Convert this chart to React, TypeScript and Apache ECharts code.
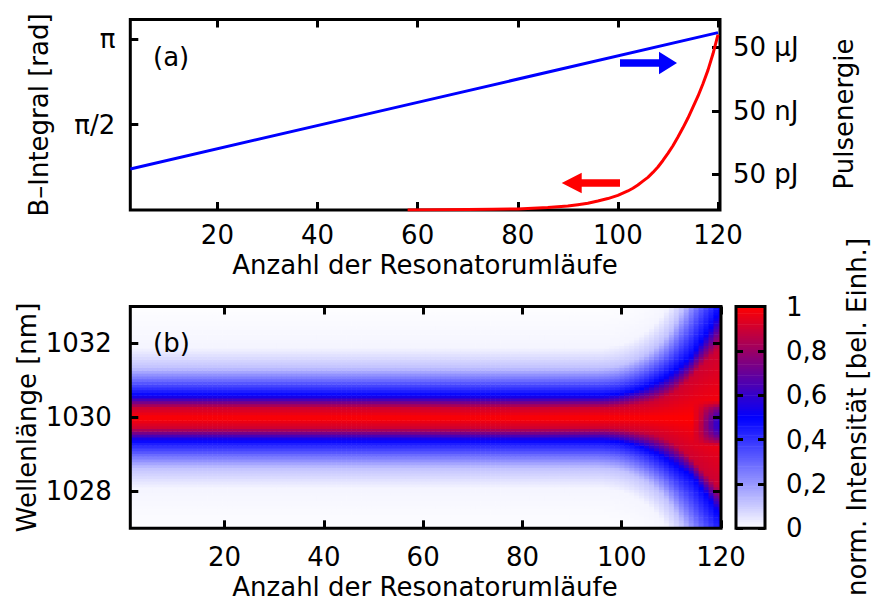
import React, { useEffect, useRef } from 'react';
import * as echarts from 'echarts';

// ---------- data: panel (a) ----------
const roundTicks = [20, 40, 60, 80, 100, 120];
const bTicks = [Math.PI / 2, Math.PI];
const bTickLabels = ['π/2', 'π'];
const energyTicks = [5e-11, 5e-8, 5e-5];
const energyTickLabels = ['50 pJ', '50 nJ', '50 µJ'];

// pulse energy (J) vs round trip (straight line on the log axis)
const energyRounds = [2.6, 60, 120];
const energyJ = [8.8e-11, 1.25e-7, 2.5e-4];

// B-integral (rad) vs round trip
const bRounds = [58, 64, 70, 75, 80, 82, 84, 86, 88, 90, 92, 94, 96, 98, 100, 101, 102, 103, 104, 105, 106, 107, 108, 109, 110, 111, 112, 113, 114, 115, 116, 117, 118, 119, 120];
const bValues = [0.002, 0.004, 0.008, 0.013, 0.02, 0.027, 0.035, 0.045, 0.06, 0.075, 0.098, 0.125, 0.165, 0.21, 0.27, 0.31, 0.35, 0.4, 0.46, 0.53, 0.6, 0.69, 0.79, 0.91, 1.04, 1.18, 1.34, 1.51, 1.69, 1.89, 2.09, 2.32, 2.57, 2.87, 3.22];

// ---------- data: panel (b) ----------
const wlTicks = [1028, 1030, 1032];
const cbTicks = [0, 0.2, 0.4, 0.6, 0.8, 1];
const centreWl = 1030;
// intensity levels and their spectral offsets (nm) in the steady state (rounds 1-95)
const intensityLevels = [1, 0.9, 0.5, 0.12, 0.02, 0];
const steadyOffsets = [0, 0.28, 0.6, 1.35, 1.9, 3.2];
// broadening during the last round trips (rounds 96..120)
const broadStart = 96;
const coreHalfWidth = [0.28, 0.28, 0.29, 0.3, 0.31, 0.32, 0.34, 0.36, 0.38, 0.4, 0.43, 0.47, 0.52, 0.58, 0.65, 0.74, 0.85, 0.97, 1.1, 1.24, 1.38, 1.52, 1.66, 1.8, 1.9];
const midHalfWidth = [0.6, 0.61, 0.62, 0.63, 0.65, 0.68, 0.71, 0.75, 0.79, 0.84, 0.9, 0.96, 1.03, 1.11, 1.2, 1.29, 1.39, 1.49, 1.6, 1.78, 1.97, 2.16, 2.35, 2.6, 2.75];
const wingHalfWidth = [1.36, 1.37, 1.38, 1.4, 1.43, 1.47, 1.52, 1.58, 1.65, 1.73, 1.82, 1.93, 2.05, 2.2, 2.38, 2.6, 2.85, 3.1, 3.4, 3.7, 4.0, 4.3, 4.6, 4.9, 5.2];
const farHalfWidth = [1.9, 1.92, 1.94, 1.97, 2.0, 2.05, 2.1, 2.17, 2.25, 2.35, 2.46, 2.6, 2.75, 2.95, 3.15, 3.4, 3.7, 4.0, 4.4, 4.8, 5.2, 5.6, 6.0, 6.4, 6.8];
const centreShift = [0, 0, 0, 0, 0, 0, 0, 0, 0, 0, 0, 0, 0, 0, 0, 0.01, 0.02, 0.03, 0.05, 0.07, 0.08, 0.09, 0.1, 0.12, 0.13];
const dipDepth = [0, 0, 0, 0, 0, 0, 0, 0, 0, 0, 0, 0, 0, 0, 0, 0, 0, 0, 0, 0.05, 0.12, 0.22, 0.3, 0.38, 0.42];
const dipCentre = -0.15;
const dipHalfWidth = 0.6;

const WL_MIN = 1027;
const WL_MAX = 1033;
const WL_STEP = 0.075;
const N_ROUNDS = 120;

function offsetsFor(round: number, side: number): number[] {
  if (round < broadStart) return steadyOffsets;
  const i = round - broadStart;
  const s = side * centreShift[i];
  const far = farHalfWidth[i] + s;
  return [0, coreHalfWidth[i], midHalfWidth[i] + s, wingHalfWidth[i] + s, far, far + 1.3];
}

function profileValue(d: number, offs: number[]): number {
  for (let k = 1; k < offs.length; k++) {
    if (d <= offs[k]) {
      const t = (d - offs[k - 1]) / (offs[k] - offs[k - 1]);
      return intensityLevels[k - 1] + t * (intensityLevels[k] - intensityLevels[k - 1]);
    }
  }
  return 0;
}

function buildSpectrogram(): number[][] {
  const out: number[][] = [];
  const nRows = Math.round((WL_MAX - WL_MIN) / WL_STEP);
  for (let r = 1; r <= N_ROUNDS; r++) {
    for (let j = 0; j < nRows; j++) {
      const wl = WL_MIN + (j + 0.5) * WL_STEP;
      const delta = wl - centreWl;
      const side = delta >= 0 ? 1 : -1;
      let v = profileValue(Math.abs(delta), offsetsFor(r, side));
      if (r >= broadStart) {
        const dd = dipDepth[r - broadStart];
        if (dd > 0) {
          const u = (delta - dipCentre) / dipHalfWidth;
          if (Math.abs(u) < 1) v -= dd * (1 - u * u);
        }
      }
      out.push([r, wl, Math.max(0, Math.min(1, v))]);
    }
  }
  return out;
}

function buildColorbar(): number[][] {
  const out: number[][] = [];
  for (let i = 0; i < 100; i++) {
    const lv = (i + 0.5) / 100;
    out.push([0.5, lv, lv]);
  }
  return out;
}

// ---------- layout ----------
const FONT = 'DejaVu Sans';
const FS = 26;
const GA = { left: 130.3, top: 19.5, width: 589.7, height: 190.5 };
const GB = { left: 130.3, top: 306.5, width: 590.7, height: 221.8 };
const GC = { left: 736, top: 306.5, width: 29, height: 221.8 };

const tickStyle = { color: '#000', width: 3 };
const labelBase = { fontFamily: FONT, fontSize: FS, color: '#000' };

function nearestLabel(v: number, ticks: number[], labels: string[], log = false): string {
  let best = 0;
  let bd = Infinity;
  ticks.forEach((t, i) => {
    const d = log ? Math.abs(Math.log10(v) - Math.log10(t)) : Math.abs(v - t);
    if (d < bd) { bd = d; best = i; }
  });
  return labels[best];
}

export default function App() {
  const ref = useRef<HTMLDivElement>(null);
  useEffect(() => {
    if (!ref.current) return;
    const chart = echarts.init(ref.current, undefined, { renderer: 'svg' });
    const spectro = buildSpectrogram();
    const cbar = buildColorbar();

    const cellRenderer = (dx: number, dy: number) => (params: any, api: any) => {
      const x = api.value(0);
      const y = api.value(1);
      const p0 = api.coord([x - dx / 2, y + dy / 2]);
      const p1 = api.coord([x + dx / 2, y - dy / 2]);
      return {
        type: 'rect',
        shape: { x: p0[0], y: p0[1], width: p1[0] - p0[0] + 0.6, height: p1[1] - p0[1] + 0.6 },
        style: { fill: api.visual('color') },
      };
    };

    const text = (t: string, x: number, y: number, rot = 0, align = 'center') => ({
      type: 'text',
      x,
      y,
      rotation: rot,
      z: 120,
      style: {
        text: t,
        fontFamily: FONT,
        fontSize: FS,
        fill: '#000',
        align,
        textAlign: align,
        verticalAlign: 'middle',
        textVerticalAlign: 'middle',
      },
    });

    const frame = (g: any) => ({
      type: 'rect',
      z: 100,
      shape: { x: g.left, y: g.top, width: g.width, height: g.height },
      style: { fill: 'none', stroke: '#000', lineWidth: 3 },
    });

    const option: any = {
      animation: false,
      backgroundColor: '#fff',
      grid: [
        { ...GA, show: true, borderColor: '#000', borderWidth: 3, backgroundColor: 'transparent', containLabel: false, outerBoundsMode: 'none' },
        { ...GB, show: false, containLabel: false, outerBoundsMode: 'none' },
        { ...GC, show: false, containLabel: false, outerBoundsMode: 'none' },
      ],
      xAxis: [
        {
          gridIndex: 0, type: 'value', position: 'bottom', min: 2.6, max: 120.4,
          axisLine: { show: false, onZero: false }, splitLine: { show: false },
          axisTick: { inside: true, length: 8, lineStyle: tickStyle, customValues: roundTicks },
          axisLabel: { ...labelBase, margin: 12, customValues: roundTicks, formatter: (v: number) => String(v) },
        },
        {
          gridIndex: 0, type: 'value', position: 'top', min: 2.6, max: 120.4,
          axisLine: { show: false, onZero: false }, splitLine: { show: false },
          axisTick: { inside: true, length: 8, lineStyle: tickStyle, customValues: roundTicks },
          axisLabel: { show: false },
        },
        {
          gridIndex: 1, type: 'value', position: 'bottom', min: 1, max: 120, z: 10,
          axisLine: { show: false, onZero: false }, splitLine: { show: false },
          axisTick: { inside: true, length: 8, lineStyle: tickStyle, customValues: roundTicks },
          axisLabel: { ...labelBase, margin: 16, customValues: roundTicks, formatter: (v: number) => String(v) },
        },
        {
          gridIndex: 1, type: 'value', position: 'top', min: 1, max: 120, z: 10,
          axisLine: { show: false, onZero: false }, splitLine: { show: false },
          axisTick: { inside: true, length: 8, lineStyle: tickStyle, customValues: roundTicks },
          axisLabel: { show: false },
        },
        {
          gridIndex: 2, type: 'value', min: 0, max: 1, show: false,
          axisLine: { onZero: false },
        },
      ],
      yAxis: [
        {
          gridIndex: 0, type: 'value', position: 'left', min: 0, max: 3.5,
          axisLine: { show: false, onZero: false }, splitLine: { show: false },
          axisTick: { inside: true, length: 8, lineStyle: tickStyle, customValues: bTicks },
          axisLabel: {
            ...labelBase, margin: 15, customValues: bTicks,
            formatter: (v: number) => nearestLabel(v, bTicks, bTickLabels),
          },
        },
        {
          gridIndex: 0, type: 'log', logBase: 10, position: 'right', min: 1e-12, max: 1.05e-3,
          axisLine: { show: false, onZero: false }, splitLine: { show: false }, minorTick: { show: false },
          axisTick: { inside: true, length: 8, lineStyle: tickStyle, customValues: energyTicks },
          axisLabel: {
            ...labelBase, margin: 13, customValues: energyTicks,
            formatter: (v: number) => nearestLabel(v, energyTicks, energyTickLabels, true),
          },
        },
        {
          gridIndex: 1, type: 'value', position: 'left', min: WL_MIN, max: WL_MAX, z: 10,
          axisLine: { show: false, onZero: false }, splitLine: { show: false },
          axisTick: { inside: true, length: 8, lineStyle: tickStyle, customValues: wlTicks },
          axisLabel: { ...labelBase, margin: 18.5, customValues: wlTicks, formatter: (v: number) => String(v) },
        },
        {
          gridIndex: 1, type: 'value', position: 'right', min: WL_MIN, max: WL_MAX, z: 10,
          axisLine: { show: false, onZero: false }, splitLine: { show: false },
          axisTick: { inside: true, length: 8, lineStyle: tickStyle, customValues: wlTicks },
          axisLabel: { show: false },
        },
        {
          gridIndex: 2, type: 'value', position: 'right', min: 0, max: 1, z: 10,
          axisLine: { show: false, onZero: false }, splitLine: { show: false },
          axisTick: { inside: true, length: 7, lineStyle: tickStyle, customValues: cbTicks },
          axisLabel: {
            ...labelBase, margin: 21, customValues: cbTicks,
            formatter: (v: number) => String(Math.round(v * 10) / 10).replace('.', ','),
          },
        },
        {
          gridIndex: 2, type: 'value', position: 'left', min: 0, max: 1, z: 10,
          axisLine: { show: false, onZero: false }, splitLine: { show: false },
          axisTick: { inside: true, length: 7, lineStyle: tickStyle, customValues: cbTicks },
          axisLabel: { show: false },
        },
      ],
      visualMap: {
        type: 'continuous',
        show: false,
        min: 0,
        max: 1,
        dimension: 2,
        seriesIndex: [2, 3],
        inRange: { color: ['#ffffff', '#0000ff', '#ff0000'] },
      },
      series: [
        {
          type: 'line', name: 'Pulsenergie', xAxisIndex: 0, yAxisIndex: 1,
          data: energyRounds.map((r, i) => [r, energyJ[i]]),
          showSymbol: false, symbol: 'none',
          lineStyle: { color: '#0000ff', width: 3 }, itemStyle: { color: '#0000ff' },
        },
        {
          type: 'line', name: 'B-Integral', xAxisIndex: 0, yAxisIndex: 0,
          data: bRounds.map((r, i) => [r, bValues[i]]),
          showSymbol: false, symbol: 'none', smooth: false,
          lineStyle: { color: '#ff0000', width: 3, join: 'round' }, itemStyle: { color: '#ff0000' },
        },
        {
          type: 'custom', name: 'Spektrum', xAxisIndex: 2, yAxisIndex: 2,
          data: spectro, encode: { x: 0, y: 1 }, clip: true,
          progressive: 0,
          renderItem: cellRenderer(1, WL_STEP),
        },
        {
          type: 'custom', name: 'Farbskala', xAxisIndex: 4, yAxisIndex: 4,
          data: cbar, encode: { x: 0, y: 1 }, clip: true,
          progressive: 0,
          renderItem: cellRenderer(1, 0.01),
        },
      ],
      graphic: {
        elements: [
          frame(GB),
          frame(GC),
          // arrows
          {
            type: 'polygon', z: 110,
            shape: { points: [[620, 59.3], [659, 59.3], [659, 51.7], [677, 63], [659, 74.3], [659, 66.7], [620, 66.7]] },
            style: { fill: '#0000ff' },
          },
          {
            type: 'polygon', z: 110,
            shape: { points: [[620, 179.3], [581.7, 179.3], [581.7, 172.7], [561.7, 183], [581.7, 193.3], [581.7, 186.7], [620, 186.7]] },
            style: { fill: '#ff0000' },
          },
          text('(a)', 153, 56.5, 0, 'left'),
          text('(b)', 153, 342.5, 0, 'left'),
          text('B–Integral [rad]', 38.5, 115, Math.PI / 2),
          text('Pulsenergie', 844, 114, Math.PI / 2),
          text('Anzahl der Resonatorumläufe', 425, 265),
          text('Wellenlänge [nm]', 27, 417.5, Math.PI / 2),
          text('Anzahl der Resonatorumläufe', 425, 587),
          text('norm. Intensität [bel. Einh.]', 857, 417, Math.PI / 2),
        ],
      },
    };
    chart.setOption(option);
    return () => chart.dispose();
  }, []);
  return (
    <div
      ref={ref}
      style={{ position: 'fixed', left: 0, top: 0, width: 872, height: 602, background: '#fff' }}
    />
  );
}
